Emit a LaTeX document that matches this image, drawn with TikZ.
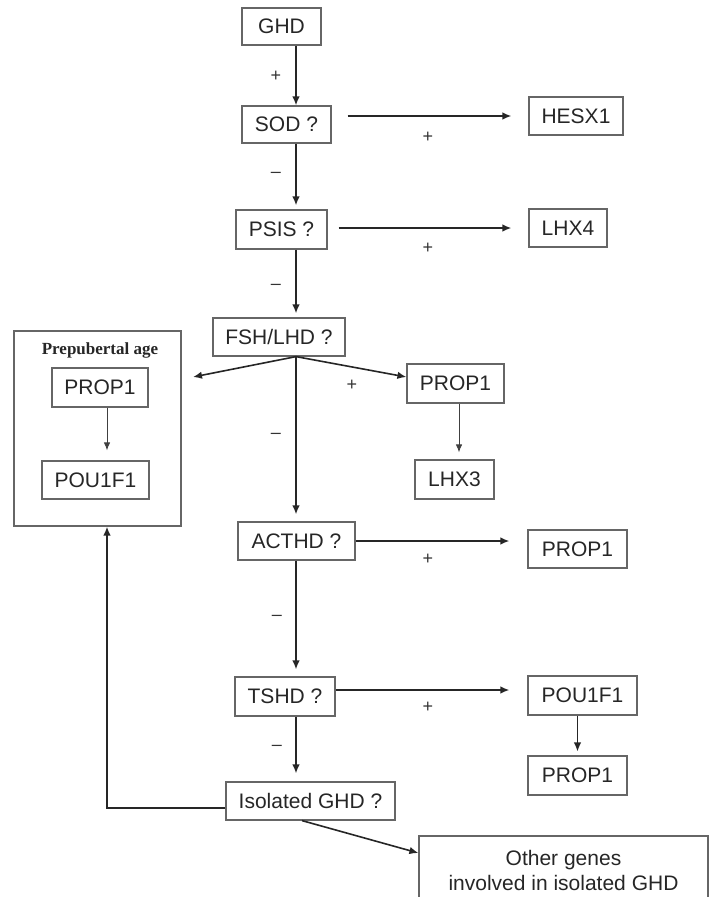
\documentclass[tikz,border=0pt]{standalone}
\usepackage{fontspec}
\setmainfont{Liberation Sans}
\newfontfamily\agefont{Liberation Serif}
\usetikzlibrary{arrows.meta}
\tikzset{box/.style = {draw = black!60, line width = 1.2pt, inner sep = 0pt,
                       text = black!85, font = \fontsize{21}{25}\selectfont},
         arr/.style = {line width = 1.6pt, draw = black!85,
                       -{Latex[length = 9pt, width = 7.5pt]}},
         thinarr/.style = {line width = 0.9pt, draw = black!75,
                           -{Latex[length = 8pt, width = 6.5pt]}},
         sign/.style = {text = black!80, font = \fontsize{18}{20}\selectfont}}

\begin{document}
\begin{tikzpicture}[x = 1pt, y = -1pt]
      \useasboundingbox (0, 0) rectangle (710, 897);
      \coordinate (spine) at (296, 0);
      % main column
      \node [box, minimum width = 79, minimum height = 37] (ghd) at (281.5, 26.5) {GHD};
      \node [box, minimum width = 89, minimum height = 37] (sod) at (286.5, 124.5) {SOD ?};
      \node [box, minimum width = 91, minimum height = 39] (psis) at (281.5, 229.5) {PSIS ?};
      \node [box, minimum width = 132, minimum height = 38] (fsh) at (279, 337) {FSH/LHD ?};
      \node [box, minimum width = 117, minimum height = 38] (acthd) at (296.5, 541) {ACTHD ?};
      \node [box, minimum width = 100, minimum height = 39] (tshd) at (285, 696.5) {TSHD ?};
      \node [box, minimum width = 169, minimum height = 38] (iso) at (310.5, 801) {Isolated GHD ?};
      % right column
      \node [box, minimum width = 94, minimum height = 38] (hesx) at (576, 116) {HESX1};
      \node [box, minimum width = 78, minimum height = 38] (lhxfour) at (568, 228) {LHX4};
      \node [box, minimum width = 97, minimum height = 39] (propr) at (455.5, 383.5) {PROP1};
      \node [box, minimum width = 79, minimum height = 39] (lhxthree) at (454.5, 479.5) {LHX3};
      \node [box, minimum width = 99, minimum height = 38] (propa) at (577.5, 549) {PROP1};
      \node [box, minimum width = 109, minimum height = 39] (poub) at (582.5, 695.5) {POU1F1};
      \node [box, minimum width = 99, minimum height = 39] (propt) at (577.5, 775.5) {PROP1};
      \node [box, minimum width = 289, minimum height = 69, align = center] (other) at (563.5, 870.5)
            {Other genes\\involved in isolated GHD};
      % prepubertal box
      \node [box, minimum width = 167, minimum height = 195] (prep) at (97.5, 428.5) {};
      \node [font = \agefont\bfseries\fontsize{17}{20}\selectfont, text = black!85] (age) at (100, 350) {Prepubertal age};
      \node [box, minimum width = 96, minimum height = 39] (propi) at (100, 387.5) {PROP1};
      \node [box, minimum width = 107, minimum height = 38] (poui) at (95.5, 480) {POU1F1};
      % arrows down the spine
      \draw [arr] (ghd.south -| spine) -- (sod.north -| spine);
      \draw [arr, shorten >= 4pt] (sod.south -| spine) -- (psis.north -| spine);
      \draw [arr, shorten >= 4pt] (psis.south -| spine) -- (fsh.north -| spine);
      \coordinate (fork) at (fsh.south -| spine);
      \coordinate (forkl) at (193, 377);
      \draw [arr] (fork) -- (forkl);
      \draw [arr] (fork) -- ([yshift = 6.5pt]propr.west);
      \draw [arr, shorten >= 7pt] (fork) -- (acthd.north -| spine);
      \draw [arr, shorten >= 7pt] (acthd.south -| spine) -- (tshd.north -| spine);
      \draw [arr, shorten >= 8pt] (tshd.south -| spine) -- (iso.north -| spine);
      \node [sign] (s1) at (276, 76) {+};
      \node [sign] (s2) at (276, 175) {--};
      \node [sign] (s3) at (276, 287) {--};
      \node [sign] (s4) at (276, 436) {--};
      \node [sign] (s5) at (277, 618) {--};
      \node [sign] (s6) at (277, 748) {--};
      % arrows to the right
      \draw [arr, shorten <= 16pt, shorten >= 17pt] (sod.east |- hesx.west) -- (hesx.west);
      \draw [arr, shorten <= 11pt, shorten >= 17pt] (psis.east |- lhxfour.west) -- (lhxfour.west);
      \draw [arr, shorten >= 18pt] (acthd.east) -- (acthd.east -| propa.west);
      \draw [arr, shorten >= 18pt] ([yshift = 6.5pt]tshd.east) -- ([yshift = 6.5pt]tshd.east -| poub.west);
      \node [sign] (s7) at (428, 137) {+};
      \node [sign] (s8) at (428, 248) {+};
      \node [sign] (s9) at (352, 385) {+};
      \node [sign] (s10) at (428, 559) {+};
      \node [sign] (s11) at (428, 707) {+};
      % small arrows inside
      \draw [thinarr, shorten >= 10pt] ([xshift = 7pt]propi.south) -- ([xshift = 7pt]propi.south |- poui.north);
      \draw [thinarr, shorten >= 7pt] ([xshift = 3.5pt]propr.south) -- ([xshift = 3.5pt]propr.south |- lhxthree.north);
      \draw [arr, line width = 1.2pt, shorten >= 4pt] (propt.north |- poub.south) -- (propt.north);
      % back to prepubertal age, and other genes
      \draw [arr] ([yshift = -7pt]iso.west) -| ([xshift = 9.5pt]prep.south);
      \draw [arr] ([xshift = -8.5pt]iso.south) -- ([yshift = 17.5pt]other.west);
\end{tikzpicture}
\end{document}
